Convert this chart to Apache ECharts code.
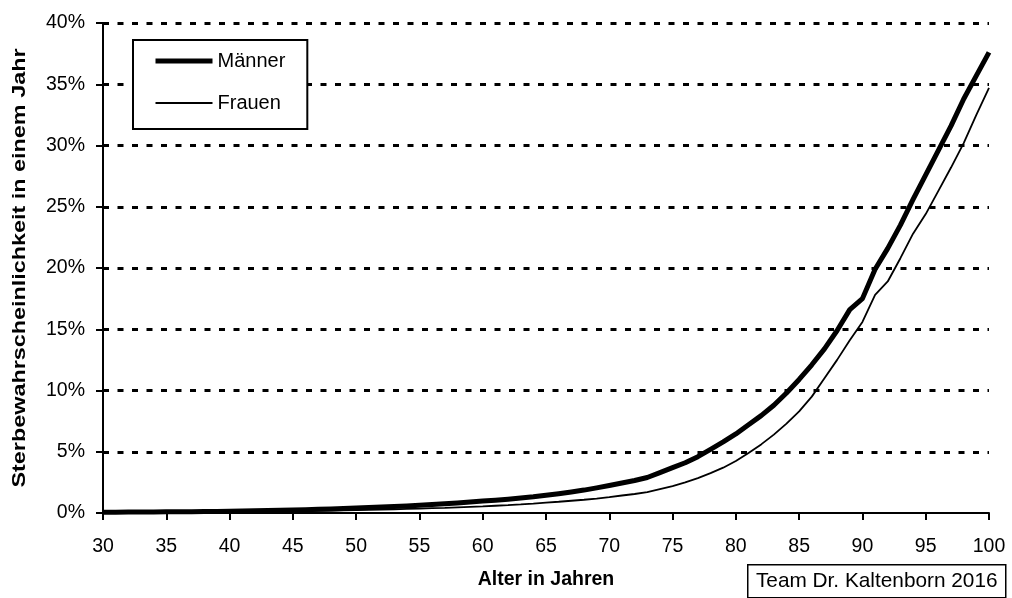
<!DOCTYPE html>
<html>
<head>
<meta charset="utf-8">
<script src="https://cdn.jsdelivr.net/npm/echarts@6/dist/echarts.min.js"></script>
<style>
html,body{margin:0;padding:0;background:#fff;}
#chart{width:1012px;height:598px;}
</style>
</head>
<body>
<div id="chart"></div>
<script>
// Ages (x) and mortality probabilities in percent
const ages = [30,31,32,33,34,35,36,37,38,39,40,41,42,43,44,45,46,47,48,49,50,51,52,53,54,55,56,57,58,59,60,61,62,63,64,65,66,67,68,69,70,71,72,73,74,75,76,77,78,79,80,81,82,83,84,85,86,87,88,89,90,91,92,93,94,95,96,97,98,99,100];
const maenner = [0.07,0.07,0.08,0.08,0.09,0.10,0.10,0.11,0.12,0.13,0.15,0.16,0.18,0.20,0.22,0.25,0.27,0.30,0.33,0.37,0.41,0.45,0.49,0.53,0.58,0.63,0.69,0.75,0.82,0.89,0.97,1.05,1.13,1.22,1.32,1.45,1.58,1.72,1.87,2.05,2.25,2.45,2.65,2.90,3.30,3.70,4.10,4.60,5.20,5.80,6.45,7.20,7.95,8.80,9.80,10.9,12.1,13.4,14.9,16.6,17.5,19.9,21.6,23.5,25.6,27.6,29.6,31.6,33.8,35.7,37.6];
const frauen = [0.03,0.03,0.03,0.04,0.04,0.05,0.05,0.06,0.06,0.07,0.08,0.09,0.10,0.11,0.12,0.14,0.15,0.17,0.19,0.21,0.23,0.25,0.27,0.30,0.33,0.36,0.39,0.42,0.46,0.50,0.54,0.59,0.64,0.70,0.77,0.85,0.92,1.00,1.08,1.18,1.30,1.43,1.55,1.70,1.95,2.20,2.50,2.85,3.25,3.70,4.25,4.90,5.60,6.40,7.30,8.30,9.50,11.0,12.5,14.1,15.6,17.8,18.9,20.8,22.8,24.4,26.3,28.2,30.2,32.5,34.7];
const seriesNames = ['Männer','Frauen'];
const xTitle = 'Alter in Jahren';
const yTitle = 'Sterbewahrscheinlichkeit in einem Jahr';
const creditText = 'Team Dr. Kaltenborn 2016';

const FONT = '"Liberation Sans", Arial, sans-serif';
const chart = echarts.init(document.getElementById('chart'), null, {renderer:'canvas'});
const pair = (ys) => ages.map((a,i)=>[a, ys[i]]);

chart.setOption({
  animation:false,
  backgroundColor:'#fff',
  textStyle:{fontFamily:FONT,color:'#000'},
  grid:{left:103,right:23,top:23,bottom:85,containLabel:false},
  legend:{
    show:true,
    left:133, top:40, orient:'vertical',
    padding:[11,22,16,20],
    itemWidth:57, itemHeight:14, itemGap:22,
    borderColor:'#000', borderWidth:2,
    backgroundColor:'#fff',
    textStyle:{fontFamily:FONT,fontSize:20,color:'#000'},
    data:[
      {name:seriesNames[0], lineStyle:{width:5,color:'#000'}, itemStyle:{opacity:0,borderWidth:0}},
      {name:seriesNames[1], lineStyle:{width:1.8,color:'#000'}, itemStyle:{opacity:0,borderWidth:0}}
    ]
  },
  xAxis:{
    type:'value', min:30, max:100, interval:5,
    name:xTitle, nameLocation:'middle', nameGap:57,
    nameTextStyle:{fontFamily:FONT,fontSize:19.5,fontWeight:'bold',color:'#000'},
    axisLine:{lineStyle:{color:'#000',width:2}},
    axisTick:{show:true,length:7,lineStyle:{color:'#000',width:2}},
    axisLabel:{fontFamily:FONT,fontSize:19.5,color:'#000',margin:24},
    splitLine:{show:false}
  },
  yAxis:{
    type:'value', min:0, max:40, interval:5,
    axisLine:{show:true,lineStyle:{color:'#000',width:2}},
    axisTick:{show:true,length:7,lineStyle:{color:'#000',width:2}},
    axisLabel:{fontFamily:FONT,fontSize:19.5,color:'#000',margin:18,formatter:'{value}%'},
    splitLine:{show:true,showMinLine:false,lineStyle:{color:'#000',width:3,type:[6,8.5],dashOffset:0}}
  },
  series:[
    {name:seriesNames[0], type:'line', data:pair(maenner), symbol:'none', showSymbol:false,
     lineStyle:{color:'#000',width:5,join:'round'}, itemStyle:{color:'#000'}, z:3},
    {name:seriesNames[1], type:'line', data:pair(frauen), symbol:'none', showSymbol:false,
     lineStyle:{color:'#000',width:1.8}, itemStyle:{color:'#000'}, z:2}
  ],
  graphic:[
    {type:'text', x:20, y:268, rotation:Math.PI/2, scaleX:1.23,
     style:{text:yTitle, font:'bold 19px "Liberation Sans", Arial, sans-serif', fill:'#000', align:'center', verticalAlign:'middle'}},
    {type:'group', left:747, top:564, children:[
      {type:'rect', shape:{x:0,y:0,width:258,height:33}, style:{fill:'#fff',stroke:'#000',lineWidth:1.5}},
      {type:'text', x:129, y:17, style:{text:creditText, font:'20.8px "Liberation Sans", Arial, sans-serif', fill:'#000', align:'center', verticalAlign:'middle'}}
    ]}
  ]
});
</script>
</body>
</html>
